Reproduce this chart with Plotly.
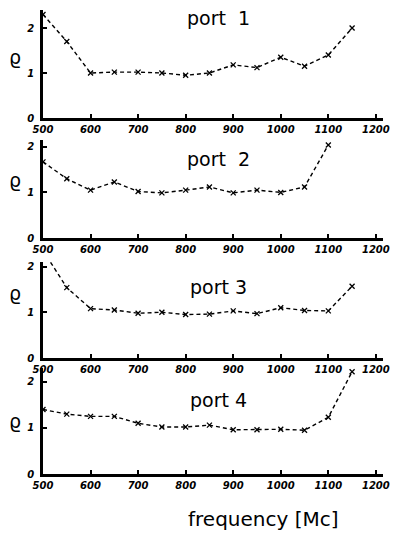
import plotly.graph_objects as go

freq = [500, 550, 600, 650, 700, 750, 800, 850, 900, 950, 1000, 1050, 1100, 1150]
port1 = [2.3, 1.7, 1.0, 1.02, 1.02, 1.0, 0.95, 1.0, 1.18, 1.12, 1.35, 1.15, 1.4, 2.0]
port2 = [1.67, 1.3, 1.05, 1.23, 1.02, 0.99, 1.05, 1.12, 0.99, 1.05, 1.0, 1.12, 2.04]
port3 = [2.35, 1.54, 1.08, 1.05, 0.98, 1.0, 0.95, 0.96, 1.03, 0.97, 1.1, 1.04, 1.03, 1.57]
port4 = [1.4, 1.3, 1.25, 1.25, 1.1, 1.02, 1.02, 1.06, 0.96, 0.96, 0.97, 0.95, 1.23, 2.22]
series = [port1, port2, port3, port4]
titles = ["port  1", "port  2", "port 3", "port 4"]
x_ticks = [500, 600, 700, 800, 900, 1000, 1100, 1200]
y_ticks = [0, 1, 2]

H = 533
W = 394
# panel pixel extents (top, bottom) and y ranges
panels = [(10, 118, 2.4), (140, 238, 2.15), (262, 358, 2.1), (368, 474, 2.3)]
title_y = [18, 159, 287, 400]
rho_y = [57, 180, 293, 421]

fig = go.Figure()
tickfont = dict(family="DejaVu Sans", size=10, color="black", style="italic", weight="bold")

layout = dict(
    width=W, height=H,
    margin=dict(l=0, r=0, t=0, b=0),
    paper_bgcolor="white", plot_bgcolor="white",
    showlegend=False,
    annotations=[],
)

x0, x1 = 43 / W, 383 / W
for i, (top, bot, ymax) in enumerate(panels):
    n = "" if i == 0 else str(i + 1)
    ys = series[i]
    fig.add_trace(go.Scatter(
        x=freq[:len(ys)], y=ys, mode="lines+markers",
        line=dict(color="black", width=1.4, dash="4px,3px"),
        marker=dict(symbol="x-thin", size=5, color="black", line=dict(width=1.3, color="black")),
        xaxis="x" + n, yaxis="y" + n,
    ))
    dom = [1 - bot / H, 1 - top / H]
    layout["xaxis" + n] = dict(
        domain=[x0, x1], range=[500, 1215], anchor="y" + n, automargin=False,
        tickvals=x_ticks, ticks="inside", ticklen=4, tickwidth=2, tickcolor="black",
        showline=True, linewidth=2.5, linecolor="black", showgrid=False, zeroline=False,
        tickfont=tickfont,
    )
    layout["yaxis" + n] = dict(
        domain=dom, range=[0, ymax], anchor="x" + n, automargin=False,
        tickvals=y_ticks, ticks="inside", ticklen=4, tickwidth=2, tickcolor="black",
        showline=True, linewidth=2.5, linecolor="black", showgrid=False, zeroline=False,
        tickfont=tickfont, ticklabelstandoff=4,
    )
    layout["annotations"].append(dict(
        text=titles[i], xref="paper", yref="paper",
        x=219 / W, y=1 - title_y[i] / H,
        showarrow=False, font=dict(family="DejaVu Sans", size=19, color="black"),
        xanchor="center", yanchor="middle",
    ))
    layout["annotations"].append(dict(
        text="ϱ", xref="paper", yref="paper",
        x=15 / W, y=1 - rho_y[i] / H,
        showarrow=False, font=dict(family="DejaVu Sans", size=19, color="black"),
        xanchor="center", yanchor="middle",
    ))

layout["annotations"].append(dict(
    text="frequency [Mc]", xref="paper", yref="paper",
    x=263 / W, y=1 - 519 / H, showarrow=False,
    font=dict(family="DejaVu Sans", size=20, color="black"),
    xanchor="center", yanchor="middle",
))

fig.update_layout(**layout)
fig.write_html("out.html")
